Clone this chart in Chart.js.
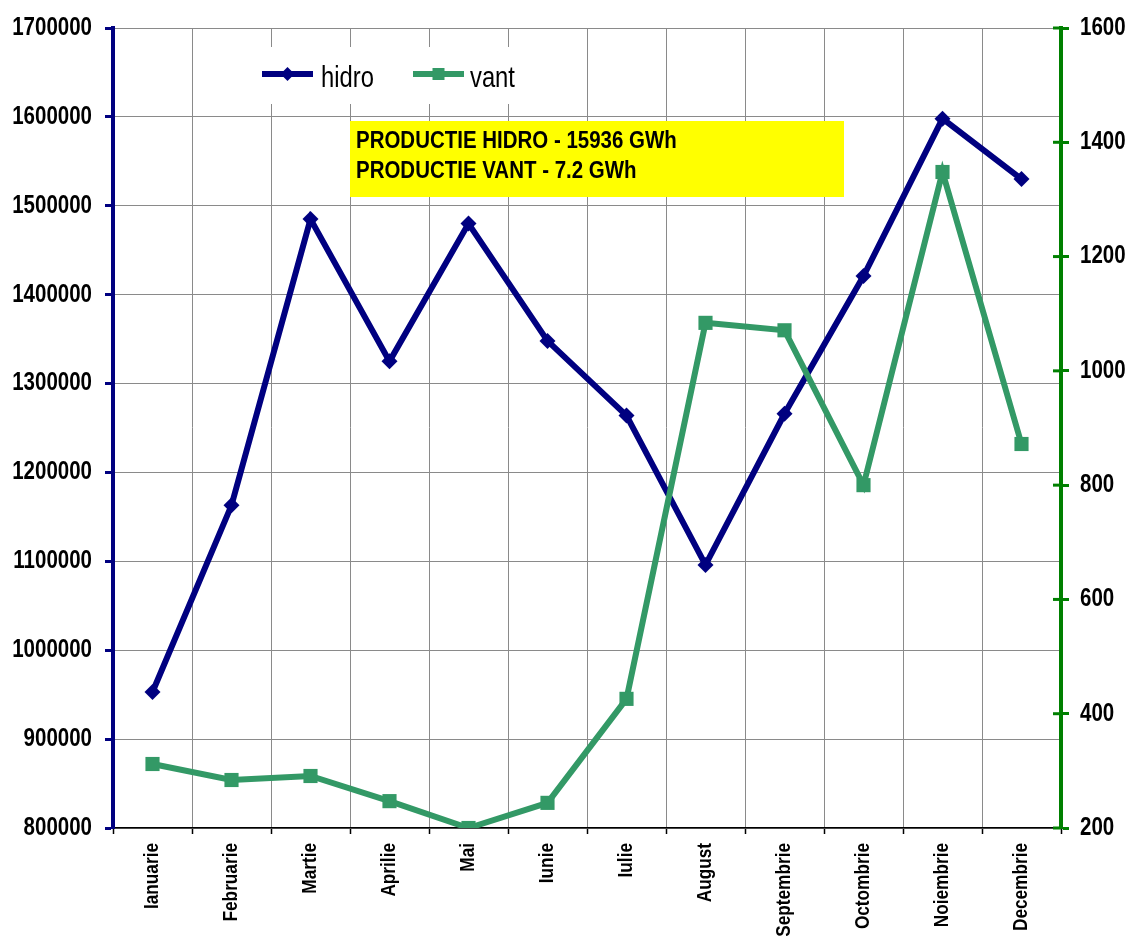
<!DOCTYPE html>
<html lang="ro">
<head>
    <meta charset="UTF-8">
    <title>Productie hidro si vant</title>
    <script src="https://cdn.jsdelivr.net/npm/chart.js"></script>
    <style>
        body {
            margin: 0;
            background: #ffffff;
        }
        .wrap {
            width: 1131px;
            height: 936px;
            position: relative;
        }
    </style>
</head>
<body>
    <div class="wrap">
        <canvas id="productieChart"></canvas>
    </div>

    <script>
        // date lunare (MWh)
        const luni = ['Ianuarie', 'Februarie', 'Martie', 'Aprilie', 'Mai', 'Iunie',
                      'Iulie', 'August', 'Septembrie', 'Octombrie', 'Noiembrie', 'Decembrie'];
        const hidro = [953000, 1163000, 1485000, 1325000, 1480000, 1348000,
                       1264000, 1096000, 1266000, 1421000, 1598000, 1530000];
        const vant = [312, 284, 291, 247, 200, 244, 426, 1084, 1071, 800, 1348, 872];

        const axaHidro = { min: 800000, max: 1700000, pas: 100000 };
        const axaVant = { min: 200, max: 1600, pas: 200 };

        const textCaseta = ['PRODUCTIE HIDRO - 15936 GWh', 'PRODUCTIE VANT - 7.2 GWh'];

        const FONT = "Arial, 'Liberation Sans', sans-serif";
        const ALBASTRU = '#000080';
        const VERDE_LINIE = '#339966';
        const VERDE_AXA = '#008000';
        const GRILA = '#8a8a8a';
        const INGUST = 0.82; // comprimare orizontala a textului

        // text comprimat pe orizontala (fontul ingust nu exista local)
        function textIngust(ctx, text, x, y, font, align, baseline, sx, unghi) {
            ctx.save();
            ctx.translate(x, y);
            if (unghi) ctx.rotate(unghi);
            ctx.scale(sx, 1);
            ctx.font = font;
            ctx.textAlign = align;
            ctx.textBaseline = baseline;
            ctx.fillStyle = '#000000';
            ctx.fillText(text, 0, 0);
            ctx.restore();
        }

        // legenda si caseta galbena, desenate peste grila
        const casetePlugin = {
            id: 'casete',
            beforeDatasetsDraw(chart) {
                const ctx = chart.ctx;
                ctx.save();

                // fundal alb pentru legenda
                ctx.fillStyle = '#ffffff';
                ctx.fillRect(252, 47, 306, 57);

                const intrari = [
                    { ds: chart.data.datasets[0], x: 262, text: 321 },
                    { ds: chart.data.datasets[1], x: 413, text: 470 }
                ];
                intrari.forEach(e => {
                    const y = 74;
                    ctx.strokeStyle = e.ds.borderColor;
                    ctx.lineWidth = 6;
                    ctx.beginPath();
                    ctx.moveTo(e.x, y);
                    ctx.lineTo(e.x + 51, y);
                    ctx.stroke();
                    ctx.fillStyle = e.ds.borderColor;
                    const cx = e.x + 25.5;
                    if (e.ds.pointStyle === 'rectRot') {
                        ctx.beginPath();
                        ctx.moveTo(cx, y - 7);
                        ctx.lineTo(cx + 7, y);
                        ctx.lineTo(cx, y + 7);
                        ctx.lineTo(cx - 7, y);
                        ctx.closePath();
                        ctx.fill();
                    } else {
                        ctx.fillRect(cx - 6, y - 6, 12, 12);
                    }
                    textIngust(ctx, e.ds.label, e.text, 87, '29px ' + FONT, 'left', 'alphabetic', INGUST);
                });

                // caseta cu totalurile anuale
                ctx.fillStyle = '#ffff00';
                ctx.fillRect(350, 121, 494, 76);
                textIngust(ctx, textCaseta[0], 356, 148, 'bold 23px ' + FONT, 'left', 'alphabetic', 0.89);
                textIngust(ctx, textCaseta[1], 356, 178, 'bold 23px ' + FONT, 'left', 'alphabetic', 0.89);

                ctx.restore();
            },
            afterDraw(chart) {
                const ctx = chart.ctx;
                const sy = chart.scales.y;
                const sy1 = chart.scales.y1;
                const sx = chart.scales.x;

                // gradatiile axei din dreapta trec si in interiorul graficului
                ctx.save();
                ctx.strokeStyle = VERDE_AXA;
                ctx.lineWidth = 3;
                sy1.ticks.forEach(t => {
                    const y = sy1.getPixelForValue(t.value);
                    ctx.beginPath();
                    ctx.moveTo(sy1.left - 8, y);
                    ctx.lineTo(sy1.left, y);
                    ctx.stroke();
                });
                ctx.restore();

                // etichetele axelor
                sy.ticks.forEach(t => {
                    textIngust(ctx, String(t.value), sy.right - 21, sy.getPixelForValue(t.value),
                        'bold 25px ' + FONT, 'right', 'middle', INGUST);
                });
                sy1.ticks.forEach(t => {
                    textIngust(ctx, String(t.value), sy1.left + 19, sy1.getPixelForValue(t.value),
                        'bold 25px ' + FONT, 'left', 'middle', INGUST);
                });
                luni.forEach((l, i) => {
                    textIngust(ctx, l, sx.getPixelForTick(i), sx.top + 15,
                        'bold 21px ' + FONT, 'right', 'middle', INGUST, -Math.PI / 2);
                });
            }
        };

        const ctx = document.getElementById('productieChart').getContext('2d');
        new Chart(ctx, {
            type: 'line',
            data: {
                labels: luni,
                datasets: [
                    {
                        label: 'hidro',
                        data: hidro,
                        yAxisID: 'y',
                        borderColor: ALBASTRU,
                        backgroundColor: ALBASTRU,
                        borderWidth: 6,
                        pointStyle: 'rectRot',
                        pointRadius: 8,
                        pointBorderWidth: 0,
                        tension: 0,
                        order: 2
                    },
                    {
                        label: 'vant',
                        data: vant,
                        yAxisID: 'y1',
                        borderColor: VERDE_LINIE,
                        backgroundColor: VERDE_LINIE,
                        borderWidth: 6,
                        pointStyle: 'rect',
                        pointRadius: 10,
                        pointBorderWidth: 0,
                        tension: 0,
                        order: 1
                    }
                ]
            },
            options: {
                responsive: true,
                maintainAspectRatio: false,
                animation: false,
                layout: {
                    padding: { top: 28, left: 0, right: 0, bottom: 0 }
                },
                plugins: {
                    legend: { display: false },
                    tooltip: { enabled: false }
                },
                scales: {
                    x: {
                        offset: true,
                        afterFit: s => { s.height = 108; },
                        grid: {
                            offset: true,
                            color: GRILA,
                            lineWidth: 1,
                            tickColor: '#000000',
                            tickLength: 6,
                            tickWidth: 1.5
                        },
                        border: { color: '#000000', width: 1.5 },
                        ticks: {
                            autoSkip: false,
                            minRotation: 90,
                            maxRotation: 90,
                            color: 'transparent',
                            font: { family: FONT, size: 17, weight: 'bold' }
                        }
                    },
                    y: {
                        position: 'left',
                        min: axaHidro.min,
                        max: axaHidro.max,
                        afterFit: s => { s.width = 113; },
                        grid: {
                            color: GRILA,
                            lineWidth: 1,
                            tickColor: ALBASTRU,
                            tickWidth: 3,
                            tickLength: 8
                        },
                        border: { color: ALBASTRU, width: 4 },
                        ticks: {
                            stepSize: axaHidro.pas,
                            color: 'transparent',
                            callback: v => String(v)
                        }
                    },
                    y1: {
                        position: 'right',
                        min: axaVant.min,
                        max: axaVant.max,
                        afterFit: s => { s.width = 70; },
                        grid: {
                            drawOnChartArea: false,
                            tickColor: VERDE_AXA,
                            tickWidth: 3,
                            tickLength: 8
                        },
                        border: { color: VERDE_AXA, width: 4 },
                        ticks: {
                            stepSize: axaVant.pas,
                            color: 'transparent',
                            callback: v => String(v)
                        }
                    }
                }
            },
            plugins: [casetePlugin]
        });
    </script>
</body>
</html>
